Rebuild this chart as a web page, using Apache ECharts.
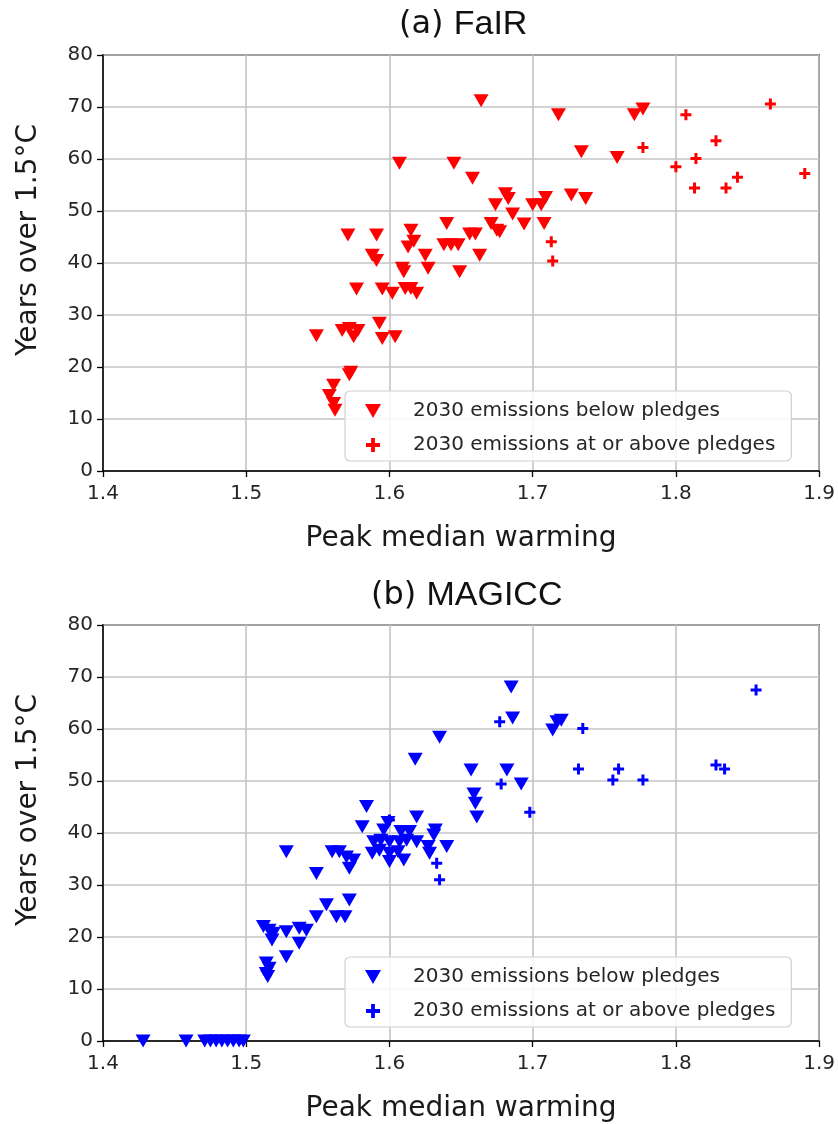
<!DOCTYPE html>
<html>
<head>
<meta charset="utf-8">
<script src="https://cdn.jsdelivr.net/npm/echarts@6/dist/echarts.min.js"></script>
<style>
  html, body { margin: 0; padding: 0; background: #fff; }
  #main { width: 838px; height: 1124px; }
</style>
</head>
<body>
<div id="main"></div>
<script>
// x range and tick labels (same on both panels)
const xTicks = [1.4, 1.5, 1.6, 1.7, 1.8, 1.9];
const yTicks = [0, 10, 20, 30, 40, 50, 60, 70, 80];

const seriesNames = ["2030 emissions below pledges", "2030 emissions at or above pledges"];

// (a) FaIR: [peak median warming, years over 1.5C]
const fairBelow = [
  [1.549, 26], [1.558, 14.5], [1.561, 13], [1.561, 16.5], [1.562, 11.7],
  [1.567, 27], [1.571, 45.4], [1.572, 18.5], [1.573, 19], [1.572, 27.4],
  [1.575, 25.8], [1.578, 27], [1.577, 35], [1.588, 41.5], [1.591, 40.5],
  [1.591, 45.4], [1.593, 28.4], [1.595, 35], [1.595, 25.5], [1.602, 34.2],
  [1.604, 25.8], [1.607, 59.2], [1.609, 39], [1.610, 38.3], [1.611, 35.1],
  [1.613, 43.1], [1.615, 46.3], [1.615, 35.1], [1.617, 44.2], [1.619, 34.2],
  [1.625, 41.5], [1.627, 39], [1.638, 43.5], [1.640, 47.6], [1.643, 43.5],
  [1.645, 59.2], [1.648, 43.5], [1.649, 38.3], [1.656, 45.6], [1.658, 56.3],
  [1.660, 45.6], [1.663, 41.5], [1.664, 71.2], [1.671, 47.6], [1.674, 51.2],
  [1.675, 46.3], [1.677, 46], [1.681, 53.3], [1.683, 52.4], [1.686, 49.4],
  [1.694, 47.5], [1.700, 51.2], [1.706, 51.2], [1.708, 47.6], [1.709, 52.6],
  [1.718, 68.5], [1.727, 53.1], [1.734, 61.4], [1.737, 52.4], [1.759, 60.3],
  [1.771, 68.5], [1.777, 69.6]
];
const fairAbove = [
  [1.713, 44.1], [1.714, 40.4], [1.777, 62.2], [1.807, 68.5], [1.866, 70.6],
  [1.828, 63.5], [1.814, 60.1], [1.800, 58.5], [1.813, 54.4], [1.835, 54.4],
  [1.843, 56.5], [1.890, 57.2]
];

// (b) MAGICC
const magiccBelow = [
  [1.428, 0], [1.458, 0], [1.471, 0], [1.475, 0], [1.479, 0], [1.483, 0],
  [1.487, 0], [1.491, 0], [1.495, 0], [1.498, 0],
  [1.512, 22], [1.516, 21.3], [1.519, 20.7], [1.518, 19.4], [1.528, 21],
  [1.528, 16.2], [1.537, 21.7], [1.542, 21.3], [1.537, 18.8], [1.549, 23.9],
  [1.556, 26.2], [1.563, 23.9], [1.569, 23.9], [1.572, 27.1],
  [1.514, 15], [1.516, 14], [1.514, 13], [1.515, 12.4],
  [1.528, 36.4], [1.549, 32.2], [1.560, 36.4], [1.565, 36.4], [1.570, 35.4],
  [1.575, 34.8], [1.572, 33.2], [1.584, 45.1], [1.581, 41.2],
  [1.589, 38.3], [1.594, 38.6], [1.600, 38.3], [1.607, 38.3], [1.612, 38.6],
  [1.619, 38.3], [1.596, 40.6], [1.599, 42], [1.608, 40.3], [1.614, 40.3],
  [1.632, 40.6], [1.631, 39.6], [1.627, 37.4], [1.640, 37.4],
  [1.588, 36.1], [1.593, 36.7], [1.600, 36.1], [1.606, 36.4], [1.628, 36.1],
  [1.600, 34.5], [1.610, 34.8], [1.619, 43.1],
  [1.618, 54.2], [1.635, 58.4], [1.657, 52.1], [1.659, 47.5], [1.660, 45.7],
  [1.661, 43.1], [1.682, 52.1], [1.692, 49.4], [1.685, 68.1], [1.686, 62.1],
  [1.714, 59.8], [1.717, 61.4], [1.720, 61.7]
];
const magiccAbove = [
  [1.677, 61.4], [1.678, 49.4], [1.698, 44], [1.735, 60.1], [1.732, 52.3],
  [1.760, 52.3], [1.756, 50.2], [1.777, 50.2], [1.828, 53.1], [1.834, 52.3],
  [1.856, 67.5], [1.633, 34.2], [1.635, 31], [1.600, 42.5]
];

const plusPath = "path://M4,0H7V4H11V7H7V11H4V7H0V4H4Z";
const downTriPath = "path://M0,0H16L8,14Z";
const tickFont = { fontFamily: "DejaVu Sans", fontSize: 20, color: "#262626" };
const nameFont = { fontFamily: "DejaVu Sans", fontSize: 28, color: "#1a1a1a" };

function makeX(gridIndex) {
  return {
    gridIndex, type: "value", min: 1.4, max: 1.9, interval: 0.1,
    name: "Peak median warming", nameLocation: "middle", nameGap: 54,
    nameTextStyle: nameFont,
    axisLine: { show: true, onZero: false, lineStyle: { color: "#000", width: 1.5 } },
    axisTick: { show: true, length: 6, lineStyle: { color: "#000", width: 1.3 } },
    axisLabel: Object.assign({ margin: 13, formatter: v => v.toFixed(1) }, tickFont),
    splitLine: { show: true, lineStyle: { color: "#c4c4c4", width: 1.6 } }
  };
}
function makeY(gridIndex) {
  return {
    gridIndex, type: "value", min: 0, max: 80, interval: 10,
    name: "Years over 1.5°C", nameLocation: "middle", nameGap: 60,
    nameTextStyle: Object.assign({ padding: [0, 0, 0, 46] }, nameFont),
    axisLine: { show: true, onZero: false, lineStyle: { color: "#000", width: 1.5 } },
    axisTick: { show: true, length: 6, lineStyle: { color: "#000", width: 1.3 } },
    axisLabel: Object.assign({ margin: 10 }, tickFont),
    splitLine: { show: true, lineStyle: { color: "#c4c4c4", width: 1.6 } }
  };
}
function makeLegend(top, color) {
  return {
    orient: "vertical", left: 345, top,
    padding: [10, 16, 6, 20], itemGap: 14,
    itemWidth: 16, itemHeight: 14,
    backgroundColor: "rgba(255,255,255,0.85)",
    borderColor: "#d0d0d0", borderWidth: 1.2, borderRadius: 5,
    data: [
      { name: seriesNames[0], icon: downTriPath, itemStyle: { color } },
      { name: seriesNames[1], icon: plusPath, itemStyle: { color } }
    ],
    textStyle: { fontFamily: "DejaVu Sans", fontSize: 20, color: "#262626", padding: [0, 0, 0, 27] }
  };
}

const titleRich = {
  a: { fontFamily: "DejaVu Sans", fontSize: 32, fontWeight: "normal", color: "#111" },
  b: { fontFamily: "Liberation Sans", fontSize: 34, fontWeight: "normal", color: "#111" }
};

const chart = echarts.init(document.getElementById("main"), null, { renderer: "canvas" });
chart.setOption({
  backgroundColor: "#fff",
  animation: false,
  title: [
    { text: "{a|(a) }{b|FaIR}", left: 394, top: 3, textStyle: { fontWeight: "normal", rich: titleRich } },
    { text: "{a|(b) }{b|MAGICC}", left: 366, top: 574, textStyle: { fontWeight: "normal", rich: titleRich } }
  ],
  grid: [
    { left: 103, top: 55, width: 717, height: 416, show: true, borderColor: "#000", borderWidth: 1.5 },
    { left: 103, top: 625, width: 717, height: 416, show: true, borderColor: "#000", borderWidth: 1.5 }
  ],
  xAxis: [makeX(0), makeX(1)],
  yAxis: [makeY(0), makeY(1)],
  legend: [makeLegend(391, "#ff0000"), makeLegend(957, "#0000ff")],
  series: [
    { name: seriesNames[0], type: "scatter", xAxisIndex: 0, yAxisIndex: 0, data: fairBelow,
      symbol: "triangle", symbolRotate: 180, symbolSize: [15, 13], itemStyle: { color: "#ff0000", opacity: 1 } },
    { name: seriesNames[1], type: "scatter", xAxisIndex: 0, yAxisIndex: 0, data: fairAbove,
      symbol: plusPath, symbolSize: 11, itemStyle: { color: "#ff0000", opacity: 1 } },
    { name: seriesNames[0], type: "scatter", xAxisIndex: 1, yAxisIndex: 1, data: magiccBelow,
      symbol: "triangle", symbolRotate: 180, symbolSize: [15, 13], itemStyle: { color: "#0000ff", opacity: 1 } },
    { name: seriesNames[1], type: "scatter", xAxisIndex: 1, yAxisIndex: 1, data: magiccAbove,
      symbol: plusPath, symbolSize: 11, itemStyle: { color: "#0000ff", opacity: 1 } }
  ]
});
</script>
</body>
</html>
